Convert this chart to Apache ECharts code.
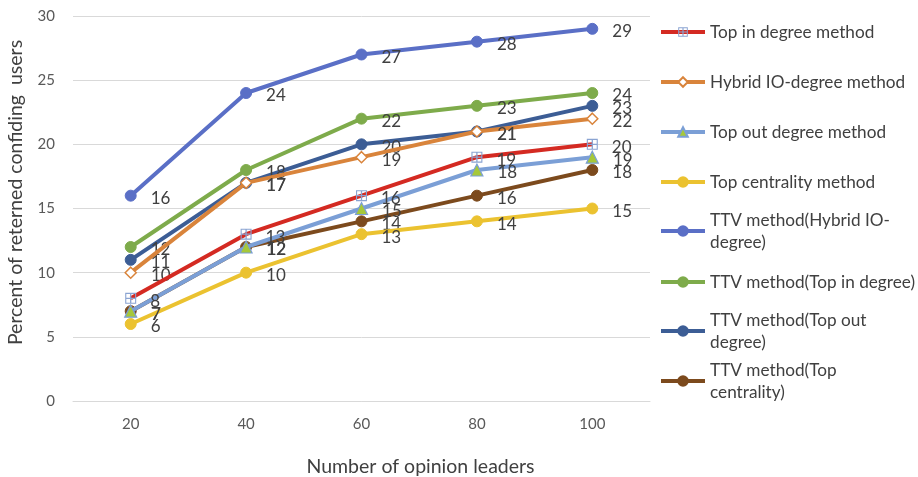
<!DOCTYPE html>
<html>
<head>
<meta charset="utf-8">
<script src="https://cdn.jsdelivr.net/npm/echarts@6/dist/echarts.min.js"></script>
<style>html,body{margin:0;padding:0;background:#fff}#c{width:918px;height:477px}</style>
</head>
<body>
<div id="c"></div>
<script>
var categories = ['20', '40', '60', '80', '100'];
var seriesNames = [
  'Top in degree method',
  'Hybrid IO-degree method',
  'Top out degree method',
  'Top centrality method',
  'TTV method(Hybrid IO-degree)',
  'TTV method(Top in degree)',
  'TTV method(Top out degree)',
  'TTV method(Top centrality)'
];
var topInDegree = [8, 13, 16, 19, 20];
var hybridIODegree = [10, 17, 19, 21, 22];
var topOutDegree = [7, 12, 15, 18, 19];
var topCentrality = [6, 10, 13, 14, 15];
var ttvHybrid = [16, 24, 27, 28, 29];
var ttvTopIn = [12, 18, 22, 23, 24];
var ttvTopOut = [11, 17, 20, 21, 23];
var ttvTopCentrality = [7, 12, 14, 16, 18];
var legendWrapped = [
  'Top in degree method',
  'Hybrid IO-degree method',
  'Top out degree method',
  'Top centrality method',
  'TTV method(Hybrid IO-\ndegree)',
  'TTV method(Top in degree)',
  'TTV method(Top out\ndegree)',
  'TTV method(Top\ncentrality)'
];

var FONT = 'Lato';
var values = [topInDegree, hybridIODegree, topOutDegree, topCentrality, ttvHybrid, ttvTopIn, ttvTopOut, ttvTopCentrality];
var colors = ['#d42a22', '#d9843b', '#7b9fd6', '#ebc230', '#5a6fc6', '#7eab4b', '#3c5d95', '#7c4a1d'];
var crossRect = 'path://M0,0H10V10H0Z M1,1V4.4H4.4V1Z M5.6,1V4.4H9V1Z M1,5.6V9H4.4V5.6Z M5.6,5.6V9H9V5.6Z';
var symbols = [crossRect, 'diamond', 'triangle', 'circle', 'circle', 'circle', 'circle', 'circle'];
var symFill = ['#8aa4d2', '#ffffff', '#a6c83a', '#ebc230', '#5a6fc6', '#7eab4b', '#3c5d95', '#7c4a1d'];
var symBorder = ['#8aa4d2', '#d9843b', '#7b9fd6', '#ebc230', '#5a6fc6', '#7eab4b', '#3c5d95', '#7c4a1d'];
var symBorderW = [0, 1.5, 1.2, 1, 1, 1, 1, 1];
var symSize = [11, 11, 12, 11, 11, 11, 11, 11];

var series = seriesNames.map(function (n, i) {
  return {
    name: n,
    type: 'line',
    data: values[i],
    symbol: symbols[i],
    symbolSize: symSize[i],
    symbolKeepAspect: true,
    z: 10 - i,
    lineStyle: { color: colors[i], width: 4 },
    itemStyle: { color: symFill[i], borderColor: symBorder[i], borderWidth: symBorderW[i] },
    label: {
      show: true, position: 'right', distance: 14, offset: [0, 3],
      color: '#404040', fontSize: 17, fontFamily: FONT
    },
    emphasis: { disabled: true },
    animation: false
  };
});

var legendCenters = [31, 81, 131, 181, 231, 281, 331, 381];
var legends = seriesNames.map(function (n, i) {
  var twoLine = legendWrapped[i].indexOf('\n') >= 0;
  return {
    data: [n],
    left: 659,
    top: twoLine ? legendCenters[i] - 33 : legendCenters[i] - 10,
    padding: 0,
    itemWidth: 44,
    itemHeight: 12,
    itemGap: 0,
    lineStyle: { width: 4 },
    formatter: function () { return legendWrapped[i]; },
    textStyle: {
      color: '#404040', fontSize: 17.2, fontFamily: FONT, lineHeight: 22,
      padding: twoLine ? [22, 0, 0, 0] : 0
    },
    selectedMode: false
  };
});

var chart = echarts.init(document.getElementById('c'));
chart.setOption({
  animation: false,
  color: colors,
  grid: { left: 73, right: 268, top: 16, bottom: 76, outerBoundsMode: 'none', containLabel: false },
  legend: legends,
  xAxis: {
    type: 'category',
    data: categories,
    boundaryGap: true,
    name: 'Number of opinion leaders',
    nameLocation: 'middle',
    nameGap: 56,
    nameTextStyle: { color: '#404040', fontSize: 19.5, fontFamily: FONT, padding: [0, 0, 0, 118] },
    axisLine: { lineStyle: { color: '#d9d9d9', width: 1 } },
    axisTick: { show: false },
    axisLabel: { color: '#595959', fontSize: 15, fontFamily: FONT, margin: 16 }
  },
  yAxis: {
    type: 'value',
    min: 0, max: 30, interval: 5,
    name: 'Percent of reterned confiding  users',
    nameLocation: 'middle',
    nameGap: 47,
    nameTextStyle: { color: '#404040', fontSize: 19.5, fontFamily: FONT, padding: [0, 0, 0, 32] },
    axisLine: { show: false },
    axisTick: { show: false },
    splitLine: { lineStyle: { color: '#d9d9d9', width: 1 } },
    axisLabel: { color: '#595959', fontSize: 15, fontFamily: FONT, margin: 18 }
  },
  series: series
});
</script>
</body>
</html>
